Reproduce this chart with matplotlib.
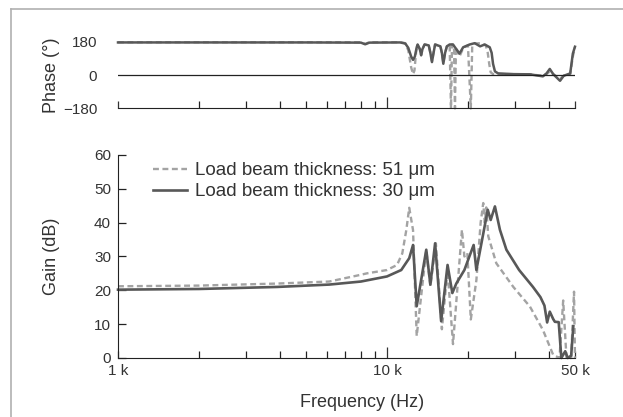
import matplotlib
matplotlib.use("Agg")
import matplotlib.pyplot as plt
from matplotlib.lines import Line2D
from matplotlib.ticker import FixedLocator, NullFormatter

plt.rcParams["font.family"] = ["Liberation Sans", "DejaVu Sans"]

# ------------ data ------------------------------------#
# gain, load beam 30 um (solid)
freq_30 = [1000, 2000, 3900, 6100, 8000, 10000, 11300, 12100, 12500, 12900, 14000, 14500,
           15100, 15900, 16800, 17500, 18100, 19400, 21000, 21500, 23700, 24300, 25200,
           26300, 27800, 31000, 34900, 37200, 38500, 39400, 40300, 41500, 42100, 43500,
           44500, 46000, 47000, 48400, 49300]
gain_30 = [20.2, 20.4, 21.0, 21.7, 22.6, 24.1, 26.0, 29.5, 33.4, 15.3, 32.0, 21.7,
           33.9, 10.9, 27.5, 19.2, 22.0, 26.0, 33.4, 26.0, 43.8, 40.8, 44.8,
           37.9, 32.0, 26.0, 21.0, 18.0, 15.5, 10.5, 13.7, 11.5, 10.7, 10.6,
           0.0, 2.0, 0.0, 0.7, 9.4]

# gain, load beam 51 um (dashed)
freq_51 = [1000, 2000, 3900, 6100, 8000, 8400, 10000, 10900, 11400, 11800, 12100, 12500,
           12900, 14000, 14500, 15200, 16000, 16800, 17600, 19000, 19400, 19900, 20500,
           21500, 22300, 22800, 23100, 23400, 23800, 25500, 29500, 34000, 38000, 41500,
           43800, 45200, 46500, 48400, 49600, 50000]
gain_51 = [21.2, 21.4, 22.0, 22.6, 24.6, 25.0, 26.0, 27.5, 30.9, 37.8, 44.4, 37.8,
           6.5, 31.9, 21.2, 33.9, 8.5, 26.0, 4.1, 37.9, 30.0, 31.0, 11.4,
           23.0, 40.0, 45.8, 40.0, 44.5, 36.0, 28.0, 21.0, 15.2, 8.3, 0.9,
           0.0, 17.0, 0.0, 0.0, 19.6, 0.0]

# phase, 30 um
pfreq_30 = [1000, 5000, 8000, 8300, 8600, 11200, 11700, 12000, 12300, 12500, 12700, 12900,
            13000, 13250, 13400, 13550, 13800, 14300, 14500, 14700, 14900, 15100, 15800,
            16000, 16200, 16450, 16700, 17100, 17600, 18100, 18600, 19200, 20300, 21200,
            22200, 23100, 24100, 24500, 24800, 25200, 25900, 29500, 34000, 38000, 39200,
            40300, 41500, 44000, 45400, 48000, 49100, 50000]
phase_30 = [176, 176, 175, 166, 175, 176, 170, 147, 100, 82, 100, 150,
            165, 140, 107, 140, 165, 160, 120, 70, 120, 165, 155,
            120, 61, 120, 155, 165, 165, 140, 116, 150, 165, 172,
            155, 165, 150, 120, 60, 20, 9, 5, 4, -7, 9,
            33, 5, -31, -4, 9, 116, 153]

# phase, 51 um
pfreq_51 = [1000, 5000, 8000, 8300, 8600, 11200, 11700, 12000, 12300, 12500, 12650, 12850,
            13000, 13250, 13400, 13550, 13800, 14300, 14500, 14700, 14900, 15100, 15800,
            16000, 16200, 16450, 16700, 17100, 17300, 17450, 17750, 17900, 18050, 18600,
            19000, 19400, 20000, 20500, 20750, 21200, 22200, 23300, 23700, 24000, 24300,
            24800, 29500, 34000, 38000, 39200, 40300, 41500, 44000, 45400, 48000, 49100,
            50000]
phase_51 = [177, 177, 177, 168, 177, 177, 172, 134, 42, 5, 24, 134,
            162, 140, 107, 140, 165, 160, 120, 75, 120, 165, 155,
            120, 65, 120, 155, 165, -180, 165, 160, -180, 150, 100,
            130, 150, 160, -180, 160, 170, 172, 160, 120, 60, 15,
            5, 5, 4, -4, 5, 20, 5, -20, -4, 5, 100,
            150]

solid_color = "#585858"
dash_color = "#a3a3a3"
text_color = "#333333"
axis_color = "#222222"

fig = plt.figure(figsize=(6.23, 4.17), dpi=100)

# thin frame on the left and top edge
fig.add_artist(Line2D([0.017, 0.017], [0.0, 0.979], color="#b0b0b0", lw=1.2, transform=fig.transFigure))
fig.add_artist(Line2D([0.017, 1.0], [0.979, 0.979], color="#b0b0b0", lw=1.2, transform=fig.transFigure))

ax_p = fig.add_axes([0.1894, 0.740, 0.7335, 0.160])
ax_g = fig.add_axes([0.1894, 0.1415, 0.7335, 0.4868])

minor_x = [2000, 3000, 4000, 5000, 6000, 7000, 8000, 9000, 20000, 30000, 40000]

for ax in (ax_p, ax_g):
    ax.set_xscale("log")
    ax.set_xlim(1000, 50000)
    ax.spines["right"].set_visible(False)
    ax.spines["top"].set_visible(False)
    ax.spines["bottom"].set_color(axis_color)
    ax.spines["left"].set_color(axis_color)
    ax.xaxis.set_major_locator(FixedLocator([1000, 10000, 50000]))
    ax.xaxis.set_minor_locator(FixedLocator(minor_x))
    ax.xaxis.set_minor_formatter(NullFormatter())
    ax.tick_params(axis="x", which="both", direction="in", length=5, width=0.9,
                   color=axis_color, pad=4)
    ax.tick_params(colors=text_color, labelsize=11)
    ax.patch.set_alpha(0)
    for t, v in zip(ax.xaxis.get_major_ticks(), [1000, 10000, 50000]):
        if v == 10000:
            t.tick1line.set_markersize(8)

# ----- phase -----#
ax_p.plot(pfreq_51, phase_51, color=dash_color, lw=1.7, ls=(0, (2.5, 1.5)), clip_on=False)
ax_p.plot(pfreq_30, phase_30, color=solid_color, lw=1.8, clip_on=False)
ax_p.axhline(0, color=axis_color, lw=0.9)
ax_p.set_ylim(-180, 180)
ax_p.set_yticks([180, 0, -180])
ax_p.spines["left"].set_visible(False)
ax_p.tick_params(axis="y", length=0, pad=15)
ax_p.tick_params(axis="x", labelbottom=False)
ax_p.set_ylabel("Phase (°)", fontsize=13, color=text_color)
ax_p.yaxis.set_label_coords(-0.128, 0.5)

# ----- gain -----#
ax_g.plot(freq_51, gain_51, color=dash_color, lw=1.7, ls=(0, (2.5, 1.5)), clip_on=False,
          label="Load beam thickness: 51 μm")
ax_g.plot(freq_30, gain_30, color=solid_color, lw=1.9, clip_on=False,
          label="Load beam thickness: 30 μm")
ax_g.set_ylim(0, 60)
ax_g.set_yticks(range(0, 61, 10))
ax_g.tick_params(axis="y", direction="in", length=6, width=0.9, color=axis_color, pad=5)
ax_g.set_xticklabels(["1 k", "10 k", "50 k"])
ax_g.set_ylabel("Gain (dB)", fontsize=13, color=text_color)
ax_g.yaxis.set_label_coords(-0.128, 0.5)
ax_g.set_xlabel("Frequency (Hz)", fontsize=13, color=text_color)
ax_g.xaxis.set_label_coords(0.535, -0.175)

leg = ax_g.legend(loc="upper left", bbox_to_anchor=(0.0766, 0.965), frameon=False,
                  fontsize=13.5, handlelength=1.8, handletextpad=0.45, labelspacing=0.22,
                  borderpad=0, borderaxespad=0)
for txt in leg.get_texts():
    txt.set_color(text_color)

fig.savefig("out.png", dpi=100)
